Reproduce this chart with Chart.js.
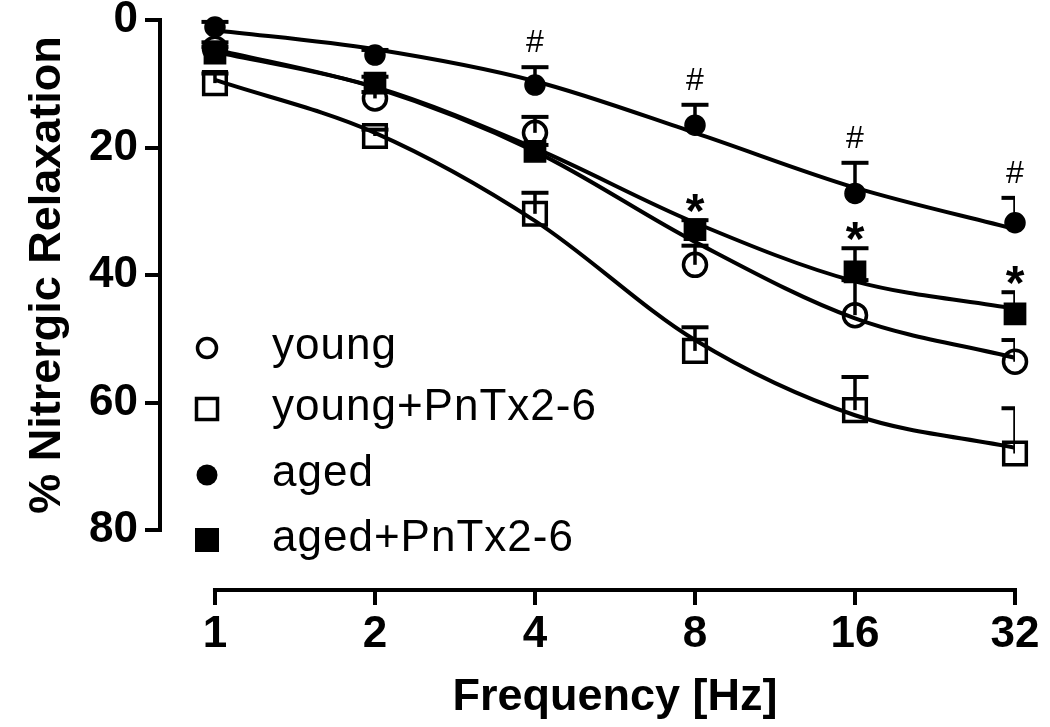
<!DOCTYPE html>
<html>
<head>
<meta charset="utf-8">
<script src="https://cdn.jsdelivr.net/npm/chart.js@4.4.1/dist/chart.umd.min.js"></script>
<style>
  html, body { margin: 0; background: #fff; }
  #wrap { width: 1050px; height: 727px; }
</style>
</head>
<body>
<div id="wrap"><canvas id="chart"></canvas></div>
<script>
// frequencies (Hz) and y ticks
const freqs = [1, 2, 4, 8, 16, 32];
const yTicks = [0, 20, 40, 60, 80];

// means (% nitrergic relaxation)
const young      = [4.5, 12.3, 17.7, 38.4, 46.3, 53.6];
const youngPn    = [9.9, 18.2, 30.4, 51.9, 61.2, 68.0];
const aged       = [1.1, 5.5, 10.2, 16.5, 27.2, 31.8];
const agedPn     = [5.2, 9.9, 20.6, 32.9, 39.5, 46.1];

// error bars (drawn one-sided, upwards)
const youngErr   = [1.0, 1.0, 2.5, 3.0, 5.5, 3.4];
const youngPnErr = [1.5, 1.0, 3.3, 3.7, 5.2, 7.1];
const agedErr    = [0.8, 0.8, 2.8, 3.2, 4.8, 3.9];
const agedPnErr  = [1.0, 1.0, 1.0, 1.5, 3.7, 3.4];

// fitted curves at each frequency
const youngFit   = [4.6, 10.6, 20.6, 34.8, 46.8, 53.0];
const youngPnFit = [9.4, 17.7, 31.5, 50.2, 62.0, 67.1];
const agedFit    = [1.6, 4.6, 9.6, 17.7, 26.3, 32.8];
const agedPnFit  = [5.0, 10.5, 20.1, 31.8, 41.0, 45.3];

// significance marks
const hashAt = [4, 8, 16, 32];   // aged vs young
const starAt = [8, 16, 32];      // aged+PnTx2-6 vs aged

const labels = ['young', 'young+PnTx2-6', 'aged', 'aged+PnTx2-6'];

const FONT = "'Liberation Sans', Arial, sans-serif";
const pts = arr => arr.map((v, i) => ({ x: freqs[i], y: v }));

function markerSet(label, values, errs, style, filled, radius) {
  return {
    label: label,
    data: pts(values),
    errs: errs,
    showLine: false,
    pointStyle: style,
    pointRadius: radius,
    pointHoverRadius: radius,
    pointBorderWidth: filled ? 1.5 : 3.5,
    pointBackgroundColor: filled ? '#000' : 'rgba(0,0,0,0)',
    pointBorderColor: '#000',
    clip: false
  };
}
function curveSet(values) {
  return {
    label: '',
    data: pts(values),
    showLine: true,
    pointRadius: 0,
    pointHoverRadius: 0,
    borderColor: '#000',
    borderWidth: 4,
    cubicInterpolationMode: 'monotone',
    fill: false
  };
}

const axesPlugin = {
  id: 'axes',
  afterDraw(chart) {
    const { ctx, chartArea, scales: { x, y } } = chart;
    ctx.save();
    ctx.strokeStyle = '#000';
    ctx.lineWidth = 4;
    ctx.beginPath();
    ctx.moveTo(chartArea.left, y.getPixelForValue(0) - 2);
    ctx.lineTo(chartArea.left, y.getPixelForValue(80) + 2);
    ctx.moveTo(x.getPixelForValue(1) - 2, chartArea.bottom);
    ctx.lineTo(x.getPixelForValue(32) + 2, chartArea.bottom);
    ctx.stroke();

    // axis titles, centred on the drawn axis lines
    ctx.fillStyle = '#000';
    ctx.font = 'bold 45px ' + FONT;
    ctx.textAlign = 'center';
    ctx.textBaseline = 'alphabetic';
    const cx = (x.getPixelForValue(1) + x.getPixelForValue(32)) / 2;
    ctx.fillText('Frequency [Hz]', cx, 710);
    const cy = (y.getPixelForValue(0) + y.getPixelForValue(80)) / 2;
    ctx.translate(60, cy);
    ctx.rotate(-Math.PI / 2);
    ctx.fillText('% Nitrergic Relaxation', 0, 0);
    ctx.restore();
  }
};

const errorBarPlugin = {
  id: 'errorBars',
  afterDatasetsDraw(chart) {
    const { ctx, chartArea, scales: { x, y } } = chart;
    ctx.save();
    ctx.beginPath();
    ctx.rect(chartArea.left, 0, chartArea.right - chartArea.left, chartArea.bottom);
    ctx.clip();
    ctx.strokeStyle = '#000';
    chart.data.datasets.forEach(ds => {
      if (!ds.errs) return;
      ds.data.forEach((p, i) => {
        const px = x.getPixelForValue(p.x);
        const y0 = y.getPixelForValue(p.y);
        const y1 = y.getPixelForValue(p.y - ds.errs[i]);
        ctx.lineWidth = 3.5;
        ctx.beginPath();
        ctx.moveTo(px, y0);
        ctx.lineTo(px, y1);
        ctx.stroke();
        ctx.lineWidth = 4;
        ctx.beginPath();
        ctx.moveTo(px - 13.5, y1);
        ctx.lineTo(px + 13.5, y1);
        ctx.stroke();
      });
    });
    ctx.restore();
  }
};

const marksPlugin = {
  id: 'marks',
  afterDraw(chart) {
    const { ctx, scales: { x, y } } = chart;
    ctx.save();
    ctx.fillStyle = '#000';
    ctx.textAlign = 'center';
    ctx.textBaseline = 'alphabetic';
    ctx.font = '32px ' + FONT;
    hashAt.forEach(f => {
      const i = freqs.indexOf(f);
      const top = y.getPixelForValue(aged[i] - agedErr[i]);
      ctx.fillText('#', x.getPixelForValue(f), top - 26 + 0.35 * 32);
    });
    ctx.font = 'bold 48px ' + FONT;
    starAt.forEach(f => {
      const i = freqs.indexOf(f);
      const top = y.getPixelForValue(agedPn[i] - agedPnErr[i]);
      ctx.fillText('*', x.getPixelForValue(f), top - 20 + 0.56 * 48);
    });
    ctx.restore();
  }
};

const legendPlugin = {
  id: 'insideLegend',
  afterDraw(chart) {
    const { ctx } = chart;
    const rows = [348, 409, 475, 540];
    const mx = 207, tx = 272;
    ctx.save();
    ctx.strokeStyle = '#000';
    ctx.fillStyle = '#000';
    ctx.lineWidth = 3.5;
    // open circle
    ctx.beginPath(); ctx.arc(mx, rows[0], 9.5, 0, Math.PI * 2); ctx.stroke();
    // open square
    ctx.strokeRect(mx - 10.5, rows[1] - 10.5, 21, 21);
    // filled circle
    ctx.beginPath(); ctx.arc(mx, rows[2], 10.5, 0, Math.PI * 2); ctx.fill();
    // filled square
    ctx.fillRect(mx - 12, rows[3] - 12, 24, 24);
    ctx.font = '44px ' + FONT;
    ctx.letterSpacing = '1px';
    ctx.textAlign = 'left';
    ctx.textBaseline = 'alphabetic';
    labels.forEach((t, i) => ctx.fillText(t, tx, rows[i] + 11));
    ctx.restore();
  }
};

const tickFont = { family: FONT, size: 44, weight: 'bold', lineHeight: 0.9 };

new Chart(document.getElementById('chart'), {
  type: 'scatter',
  data: {
    datasets: [
      curveSet(youngFit),
      curveSet(youngPnFit),
      curveSet(agedFit),
      curveSet(agedPnFit),
      markerSet(labels[0], young, youngErr, 'circle', false, 11.5),
      markerSet(labels[1], youngPn, youngPnErr, 'rect', false, 16),
      markerSet(labels[2], aged, agedErr, 'circle', true, 10),
      markerSet(labels[3], agedPn, agedPnErr, 'rect', true, 15)
    ]
  },
  options: {
    responsive: true,
    maintainAspectRatio: false,
    animation: false,
    layout: { padding: { left: 0, right: 35, top: 20, bottom: 0 } },
    plugins: { legend: { display: false }, tooltip: { enabled: false } },
    scales: {
      x: {
        type: 'logarithmic',
        position: 'bottom',
        min: 0.7881,
        max: 32,
        afterBuildTicks: s => { s.ticks = freqs.map(v => ({ value: v })); },
        afterFit: s => { s.height = 137; s.paddingLeft = 0; s.paddingRight = 0; },
        ticks: {
          autoSkip: false, maxRotation: 0, padding: 10,
          color: '#000', font: tickFont,
          callback: v => String(v)
        },
        grid: { drawOnChartArea: false, tickLength: 15, lineWidth: 4, color: '#000' },
        border: { display: false }
      },
      y: {
        type: 'linear',
        reverse: true,
        min: 0,
        max: 89.41,
        afterBuildTicks: s => { s.ticks = yTicks.map(v => ({ value: v })); },
        afterFit: s => { s.width = 160; s.paddingTop = 0; s.paddingBottom = 0; },
        ticks: {
          padding: 7, color: '#000', font: tickFont,
          callback: v => String(v)
        },
        grid: { drawOnChartArea: false, tickLength: 15, lineWidth: 4, color: '#000' },
        border: { display: false }
      }
    }
  },
  plugins: [axesPlugin, errorBarPlugin, marksPlugin, legendPlugin]
});
</script>
</body>
</html>
